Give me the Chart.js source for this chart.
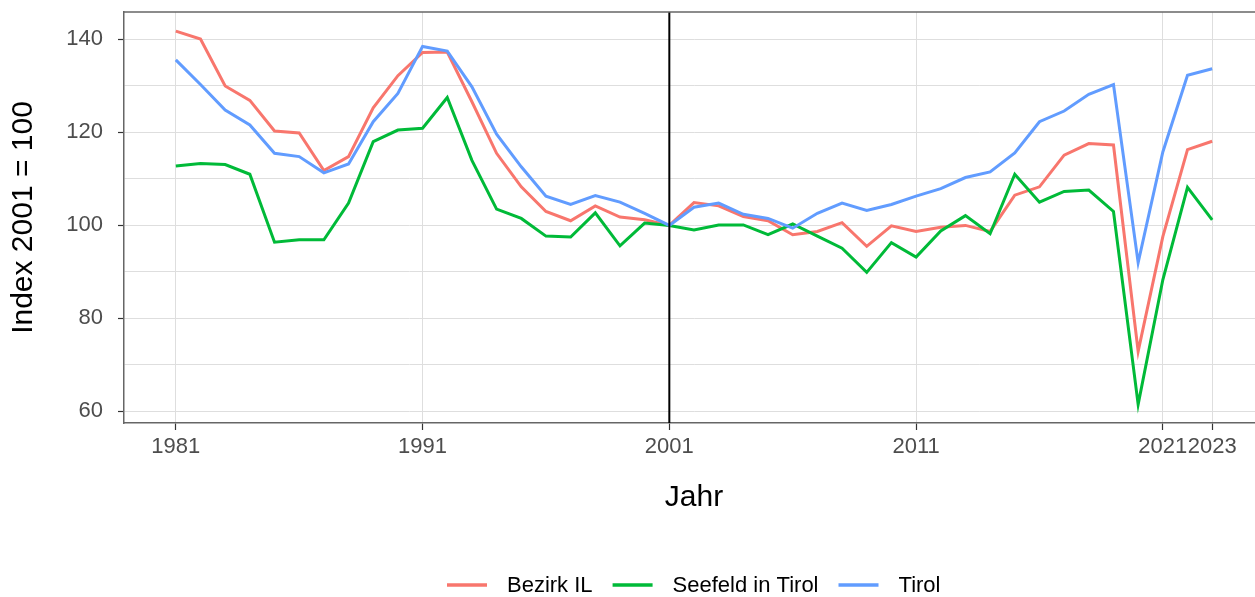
<!DOCTYPE html>
<html>
<head>
<meta charset="utf-8">
<title>Index 2001 = 100</title>
<script src="https://cdn.jsdelivr.net/npm/chart.js@4"></script>
<style>
  html, body { margin: 0; padding: 0; background: #fff; overflow: hidden; }
  canvas { display: block; }
</style>
</head>
<body>
<canvas id="lineChart" width="1275" height="597"></canvas>
<script>
// Jahre und Indexwerte (2001 = 100)
const jahre = [
  1981, 1982, 1983, 1984, 1985, 1986, 1987, 1988, 1989, 1990,
  1991, 1992, 1993, 1994, 1995, 1996, 1997, 1998, 1999, 2000,
  2001, 2002, 2003, 2004, 2005, 2006, 2007, 2008, 2009, 2010,
  2011, 2012, 2013, 2014, 2015, 2016, 2017, 2018, 2019, 2020,
  2021, 2022, 2023
];
const bezirkIL = [
  141.8, 140.1, 130.0, 126.9, 120.3, 119.9, 111.8, 114.8, 125.3, 132.2,
  137.2, 137.3, 126.6, 115.5, 108.3, 103.0, 101.0, 104.2, 101.8, 101.2,
  100.0, 104.9, 104.2, 101.9, 101.0, 98.0, 98.7, 100.6, 95.5, 99.9,
  98.7, 99.6, 100.0, 98.7, 106.5, 108.3, 115.1, 117.6, 117.3, 72.9,
  97.6, 116.3, 118.1
];
const seefeld = [
  112.8, 113.3, 113.1, 111.0, 96.4, 96.9, 96.9, 104.8, 118.0, 120.5,
  120.9, 127.5, 114.0, 103.5, 101.5, 97.7, 97.5, 102.7, 95.6, 100.5,
  100.0, 99.0, 100.1, 100.1, 98.0, 100.3, 97.7, 95.1, 89.9, 96.3,
  93.2, 98.8, 102.1, 98.2, 111.0, 105.0, 107.3, 107.6, 103.0, 61.5,
  88.3, 108.2, 101.2
];
const tirol = [
  135.6, 130.3, 124.8, 121.6, 115.5, 114.8, 111.3, 113.2, 122.3, 128.4,
  138.5, 137.5, 129.8, 119.6, 112.6, 106.3, 104.5, 106.4, 105.0, 102.6,
  100.0, 103.9, 104.8, 102.4, 101.5, 99.4, 102.6, 104.8, 103.2, 104.5,
  106.3, 107.9, 110.3, 111.5, 115.6, 122.3, 124.6, 128.2, 130.3, 92.0,
  115.8, 132.3, 133.7
];
const xTicks = [1981, 1991, 2001, 2011, 2021, 2023];
const yTicks = [60, 70, 80, 90, 100, 110, 120, 130, 140];
const referenzJahr = 2001;

const schrift = "'Liberation Sans', Arial, sans-serif";
Chart.defaults.font.family = schrift;

const punkte = werte => werte.map((v, i) => ({ x: jahre[i], y: v }));

// Titel, Legende, Rahmen oben und Linie bei 2001
const extras = {
  id: 'extras',
  afterDatasetsDraw(chart) {
    const { ctx, chartArea, scales } = chart;
    const xr = scales.x.getPixelForValue(referenzJahr);
    ctx.save();
    ctx.strokeStyle = '#000';
    ctx.lineWidth = 2;
    ctx.beginPath();
    ctx.moveTo(xr, chartArea.top);
    ctx.lineTo(xr, chartArea.bottom);
    ctx.stroke();
    ctx.strokeStyle = '#666';
    ctx.lineWidth = 1.5;
    ctx.beginPath();
    ctx.moveTo(chartArea.left, chartArea.top);
    ctx.lineTo(chartArea.right + 5, chartArea.top);
    ctx.stroke();
    ctx.restore();
  },
  afterDraw(chart) {
    const { ctx, chartArea } = chart;
    ctx.save();
    ctx.fillStyle = '#000';
    ctx.font = '30px ' + schrift;
    ctx.textAlign = 'center';
    ctx.textBaseline = 'middle';
    ctx.fillText('Jahr', (chartArea.left + chartArea.right) / 2, 498);
    ctx.translate(24, (chartArea.top + chartArea.bottom) / 2);
    ctx.rotate(-Math.PI / 2);
    ctx.fillText('Index 2001 = 100', 0, 0);
    ctx.restore();

    // Legende
    ctx.save();
    ctx.font = '22px ' + schrift;
    ctx.textAlign = 'left';
    ctx.textBaseline = 'middle';
    let x = 447;
    const y = 585;
    const reihen = chart.data.datasets.slice().sort((a, b) => a.legendIndex - b.legendIndex);
    reihen.forEach(ds => {
      ctx.strokeStyle = ds.borderColor;
      ctx.lineWidth = 3.5;
      ctx.beginPath();
      ctx.moveTo(x, y);
      ctx.lineTo(x + 40, y);
      ctx.stroke();
      ctx.fillStyle = '#000';
      ctx.fillText(ds.label, x + 60, y + 1);
      x += 60 + ctx.measureText(ds.label).width + 20;
    });
    ctx.restore();
  }
};

const ctx = document.getElementById('lineChart').getContext('2d');
const lineChart = new Chart(ctx, {
  type: 'line',
  data: {
    datasets: [
      { label: 'Tirol', data: punkte(tirol), borderColor: '#619CFF', legendIndex: 2, order: 1 },
      { label: 'Seefeld in Tirol', data: punkte(seefeld), borderColor: '#00BA38', legendIndex: 1, order: 2 },
      { label: 'Bezirk IL', data: punkte(bezirkIL), borderColor: '#F8766D', legendIndex: 0, order: 3 }
    ]
  },
  options: {
    responsive: false,
    animation: false,
    devicePixelRatio: 1,
    layout: { padding: { top: 12, right: 11, bottom: 0, left: 0 } },
    elements: {
      line: { borderWidth: 3, tension: 0, fill: false },
      point: { radius: 0, hoverRadius: 0 }
    },
    plugins: {
      legend: { display: false },
      tooltip: { enabled: false }
    },
    scales: {
      x: {
        type: 'linear',
        min: 1978.9,
        max: 2025.1,
        afterBuildTicks: s => { s.ticks = xTicks.map(v => ({ value: v })); },
        afterFit: s => { s.height = 174; s.paddingLeft = 0; s.paddingRight = 0; },
        grid: { color: '#dedede', lineWidth: 1, tickLength: 7, tickColor: '#333', tickWidth: 1.2 },
        border: { color: '#666', width: 1.5 },
        ticks: {
          autoSkip: false,
          maxRotation: 0,
          padding: 4,
          color: '#4d4d4d',
          font: { size: 22 },
          callback: v => String(v)
        }
      },
      y: {
        min: 57.5,
        max: 145.9,
        afterBuildTicks: s => { s.ticks = yTicks.map(v => ({ value: v })); },
        afterFit: s => { s.width = 124; s.paddingTop = 0; s.paddingBottom = 0; },
        grid: {
          color: '#dedede',
          lineWidth: 1,
          tickLength: 6,
          tickWidth: 1.2,
          tickColor: c => (c.tick && c.tick.value % 20 === 0 ? '#333' : 'rgba(0,0,0,0)')
        },
        border: { color: '#666', width: 1.5 },
        ticks: {
          padding: 15,
          color: '#4d4d4d',
          font: { size: 22 },
          callback: v => (v % 20 === 0 ? String(v) : '')
        }
      }
    }
  },
  plugins: [extras]
});
</script>
</body>
</html>
